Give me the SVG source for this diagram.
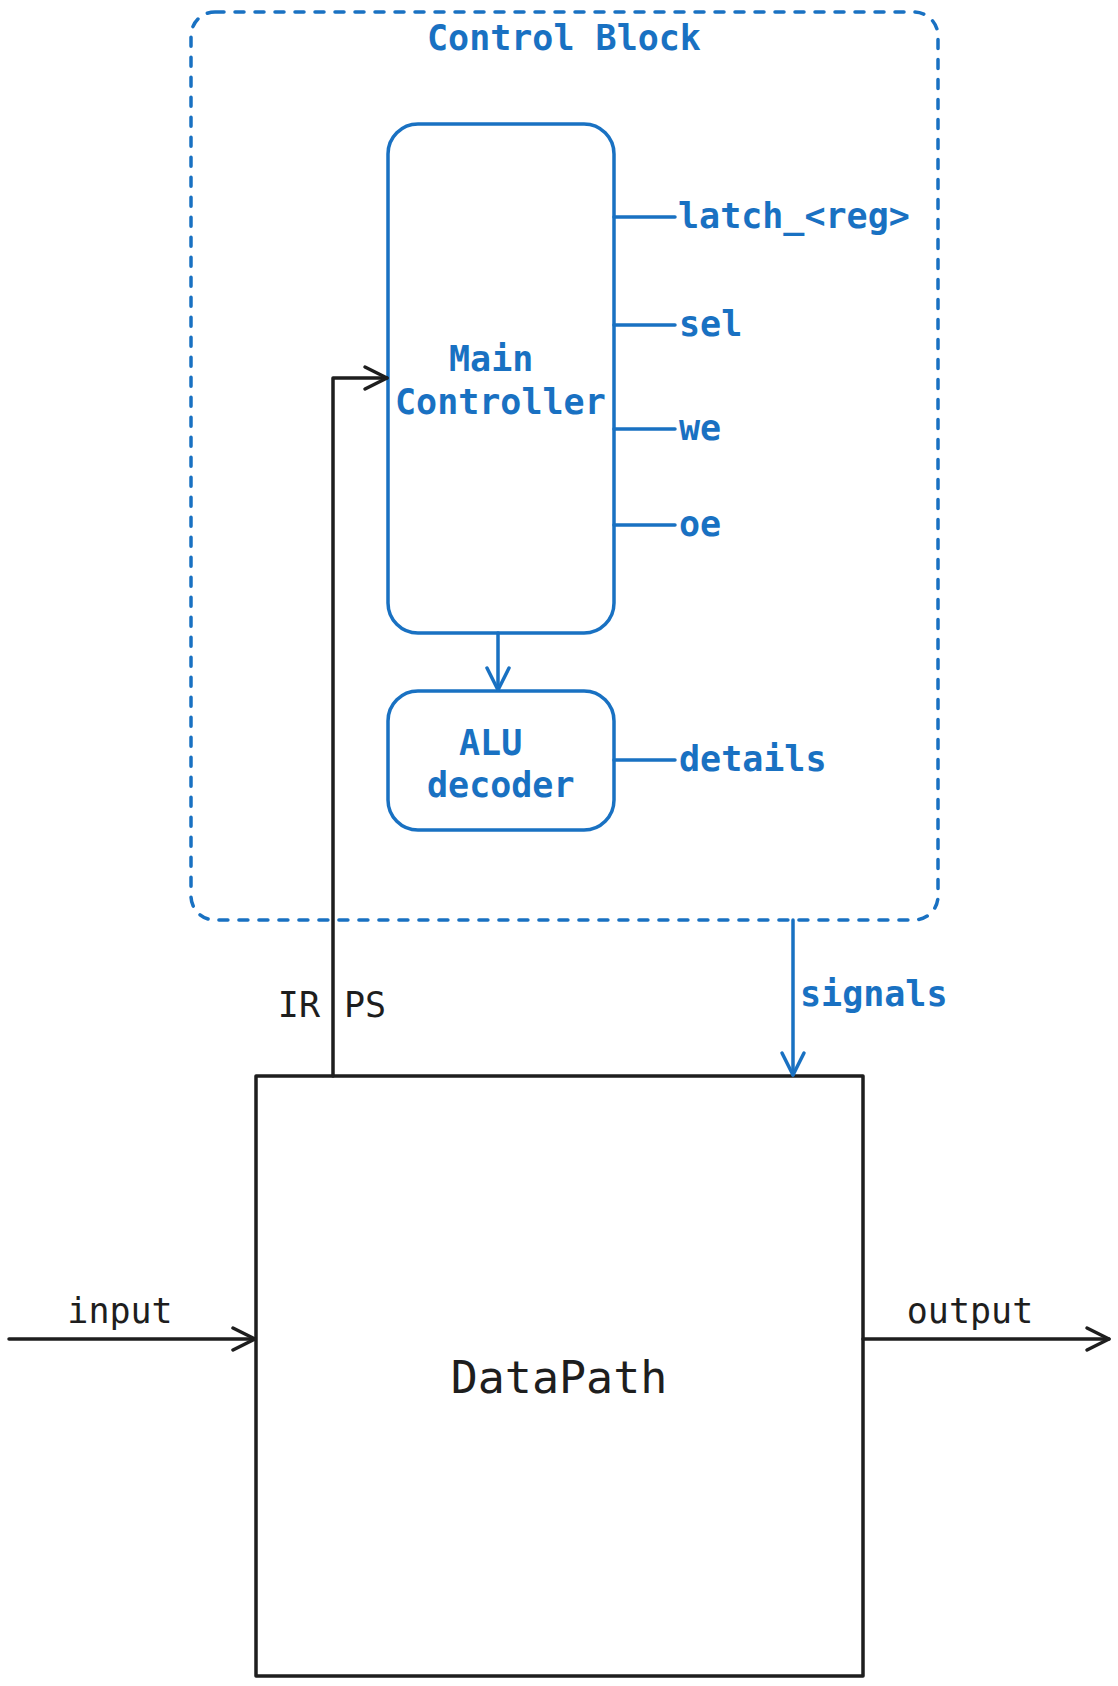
<svg xmlns="http://www.w3.org/2000/svg" width="1118" height="1686" viewBox="0 0 1118 1686">
<defs>
<style>
.blue{stroke:#1971c2;stroke-width:3.5;fill:none;stroke-linecap:round;stroke-linejoin:round}
.black{stroke:#1e1e1e;stroke-width:3.5;fill:none;stroke-linecap:round;stroke-linejoin:round}
.tb{font-family:"DejaVu Sans Mono","Liberation Mono",monospace;font-size:35px;fill:#1971c2;font-weight:bold}
.tk{font-family:"DejaVu Sans Mono","Liberation Mono",monospace;font-size:35px;fill:#1e1e1e}
</style>
<marker id="ab" markerUnits="userSpaceOnUse" markerWidth="30" markerHeight="30" refX="23" refY="11" orient="auto" overflow="visible">
<path d="M1,0 L23,11 L1,22" fill="none" stroke="#1971c2" stroke-width="3.5" stroke-linecap="round" stroke-linejoin="round"/>
</marker>
<marker id="ak" markerUnits="userSpaceOnUse" markerWidth="30" markerHeight="30" refX="23" refY="11" orient="auto" overflow="visible">
<path d="M1,0 L23,11 L1,22" fill="none" stroke="#1e1e1e" stroke-width="3.5" stroke-linecap="round" stroke-linejoin="round"/>
</marker>
</defs>
<rect width="1118" height="1686" fill="#ffffff"/>

<g id="control-block">
<rect x="191" y="12" width="747" height="908" rx="24" class="blue" stroke-width="4" stroke-dasharray="9 11"/>
<text x="427" y="50" class="tb">Control Block</text>
</g>

<g id="main-controller">
<rect x="388" y="124" width="226" height="509" rx="30" class="blue" fill="#ffffff"/>
<text x="449" y="371" class="tb">Main</text>
<text x="395" y="414" class="tb">Controller</text>
</g>

<g id="alu-decoder">
<rect x="388" y="691" width="226" height="139" rx="30" class="blue" fill="#ffffff"/>
<text x="459" y="755" class="tb">ALU</text>
<text x="427" y="797" class="tb">decoder</text>
</g>

<g id="datapath">
<rect x="256" y="1076" width="607" height="600" class="black" stroke-linecap="butt" stroke-linejoin="miter"/>
<text x="559" y="1393" class="tk" text-anchor="middle" style="font-size:45px">DataPath</text>
</g>

<g id="connectors">
<line x1="614" y1="217" x2="675" y2="217" class="blue"/>
<line x1="614" y1="325" x2="675" y2="325" class="blue"/>
<line x1="614" y1="429" x2="675" y2="429" class="blue"/>
<line x1="614" y1="525" x2="675" y2="525" class="blue"/>
<line x1="614" y1="760" x2="675" y2="760" class="blue"/>
<line x1="498" y1="633" x2="498" y2="690" class="blue" marker-end="url(#ab)"/>
<line x1="793" y1="920" x2="793" y2="1075" class="blue" marker-end="url(#ab)"/>
<polyline points="333,1076 333,378 387,378" class="black" marker-end="url(#ak)"/>
<line x1="9" y1="1339" x2="255" y2="1339" class="black" marker-end="url(#ak)"/>
<line x1="863" y1="1339" x2="1109" y2="1339" class="black" marker-end="url(#ak)"/>
</g>

<g id="labels">
<text x="678" y="228" class="tb">latch_&lt;reg&gt;</text>
<text x="679" y="336" class="tb">sel</text>
<text x="679" y="440" class="tb">we</text>
<text x="679" y="536" class="tb">oe</text>
<text x="679" y="771" class="tb">details</text>
<text x="800" y="1006" class="tb">signals</text>
<text x="320" y="1017" class="tk" text-anchor="end">IR</text>
<text x="344" y="1017" class="tk">PS</text>
<text x="120" y="1323" class="tk" text-anchor="middle">input</text>
<text x="970" y="1323" class="tk" text-anchor="middle">output</text>
</g>
</svg>
